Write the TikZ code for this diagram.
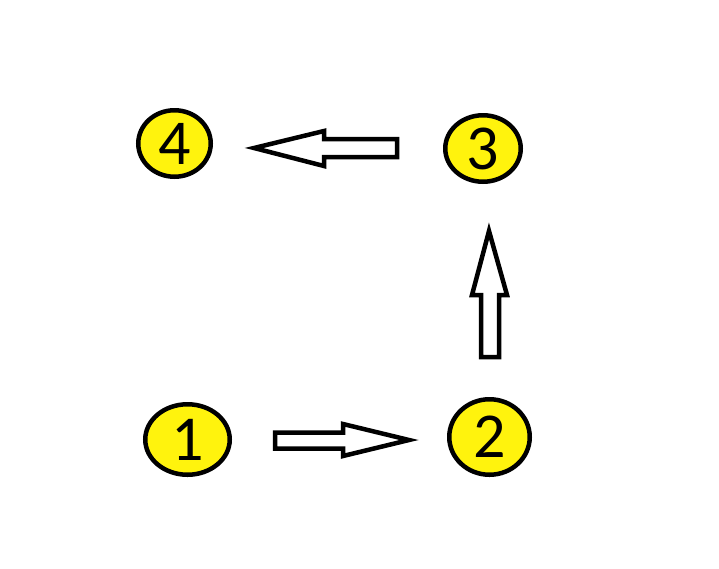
\documentclass[tikz,border=0pt]{standalone}
\usepackage{fontspec}
\setmainfont{Carlito}
\usetikzlibrary{shapes.geometric}
\begin{document}
\begin{tikzpicture}[x=1pt,y=-1pt,
  ball/.style={ellipse,draw=black,fill=yellow!95!white,line width=4.5pt,inner sep=0pt,font=\fontsize{64}{64}\selectfont},
  blockarrow/.style={draw=black,fill=white,line width=4.5pt,line join=miter}]
\useasboundingbox (0,0) rectangle (719,568);
\node[ball,minimum width=72.5pt,minimum height=66.5pt] (n4) at (174.5,143.5) {4};
\node[ball,minimum width=75.5pt,minimum height=66.5pt] (n3) at (483,148.5) {3};
\node[ball,minimum width=84.5pt,minimum height=70.5pt] (n1) at (187.5,439.5) {1};
\node[ball,minimum width=80.5pt,minimum height=75.5pt] (n2) at (489.5,437) {2};
% right arrow 1 -> 2
\draw[blockarrow] (275,432.5) -- (343,432.5) -- (343,424) -- (409,440) -- (343,456) -- (343,448.5) -- (275,448.5) -- cycle;
% up arrow 2 -> 3
\draw[blockarrow] (481,357) -- (481,295) -- (472,295) -- (489,231) -- (507,295) -- (499,295) -- (499,357) -- cycle;
% left arrow 3 -> 4
\draw[blockarrow] (397,139) -- (324,139) -- (324,131) -- (254,148) -- (324,166) -- (324,157) -- (397,157) -- cycle;
\end{tikzpicture}
\end{document}
